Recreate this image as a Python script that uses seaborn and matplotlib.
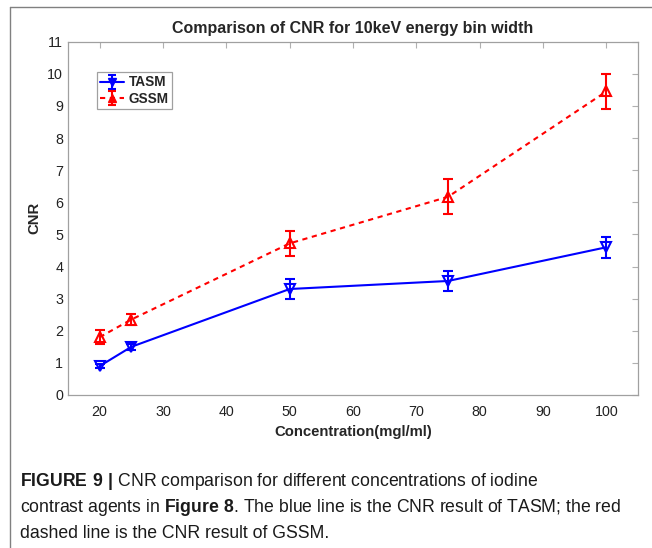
import numpy as np
import matplotlib
matplotlib.use("Agg")
import matplotlib.pyplot as plt
import seaborn as sns
from matplotlib.lines import Line2D

# Data
concentration = [20, 25, 50, 75, 100]
tasm_cnr = [0.9, 1.5, 3.3, 3.55, 4.6]
tasm_err = [0.06, 0.1, 0.32, 0.3, 0.32]
gssm_cnr = [1.8, 2.35, 4.72, 6.17, 9.45]
gssm_err = [0.22, 0.16, 0.38, 0.54, 0.55]

x_ticks = [20, 30, 40, 50, 60, 70, 80, 90, 100]
y_ticks = list(range(0, 12))

title = "Comparison of CNR for 10keV energy bin width"
x_label = "Concentration(mgl/ml)"
y_label = "CNR"
caption_lines = [
    r"$\mathbf{FIGURE\ 9\ |}$ CNR comparison for different concentrations of iodine",
    r"contrast agents in $\mathbf{Figure\ 8}$. The blue line is the CNR result of TASM; the red",
    "dashed line is the CNR result of GSSM.",
]

# Styling
sns.set_style("white")
plt.rcParams['font.family'] = ['Liberation Sans', 'DejaVu Sans']
plt.rcParams['mathtext.fontset'] = 'custom'
plt.rcParams['mathtext.rm'] = 'Liberation Sans'
plt.rcParams['mathtext.bf'] = 'Liberation Sans:bold'

W, H = 652, 548
fig = plt.figure(figsize=(W / 100, H / 100), dpi=100)
ax = fig.add_axes([68 / W, 1 - 395 / H, 570 / W, 353.3 / H])

series = [
    ("TASM", tasm_cnr, tasm_err, "#0000ff", "v", "-"),
    ("GSSM", gssm_cnr, gssm_err, "#ff0000", "^", "--"),
]
handles = []
for name, vals, errs, col, mk, ls in series:
    sns.lineplot(x=concentration, y=vals, ax=ax, color=col, marker=mk,
                 markersize=7, markerfacecolor='none', markeredgecolor=col,
                 markeredgewidth=1.5, linewidth=1.5, linestyle=ls, legend=False)
    if ls == "--":
        ax.lines[-1].set_dashes((2.5, 2.2))
    ax.errorbar(concentration, vals, yerr=errs, fmt='none', ecolor=col,
                elinewidth=1.5, capsize=3.5, capthick=1.5)
    # legend proxy (errorbar style, no data drawn)
    proxy = ax.errorbar([np.nan], [np.nan], yerr=[np.nan], color=col, marker=mk,
                        markersize=6, markerfacecolor=col, linestyle=ls, linewidth=1.5,
                        elinewidth=1.5, capsize=3, capthick=1.5)
    if ls == "--":
        proxy.lines[0].set_dashes((2.5, 2.2))
    handles.append(proxy)

ax.set_xlim(15, 105)
ax.set_ylim(0, 11)
ax.set_xticks(x_ticks)
ax.set_yticks(y_ticks)
ax.tick_params(direction='in', length=4, width=0.8, color='#b0b0b0',
               top=True, right=True, labelsize=10.3, labelcolor='#222222')
ax.tick_params(axis='x', pad=7)
ax.tick_params(axis='y', pad=3.5)
for sp in ax.spines.values():
    sp.set_color('#a0a0a0')
    sp.set_linewidth(0.9)

ax.set_xlabel(x_label, fontsize=10.7, fontweight='bold')
ax.xaxis.set_label_coords(0.5, -0.084)
ax.set_ylabel(y_label, fontsize=10.7, fontweight='bold')
ax.yaxis.set_label_coords(-0.047, 0.5)

fig.text(353 / W, 1 - 29 / H, title, ha='center', va='center',
         fontsize=11.5, fontweight='bold')

leg = ax.legend(handles, ["TASM", "GSSM"], numpoints=1,
                loc='upper left', bbox_to_anchor=(0.051, 0.914), fancybox=False,
                edgecolor='#a0a0a0', framealpha=1, prop={'weight': 'bold', 'size': 9.8},
                handlelength=1.75, handletextpad=0.3, borderpad=0.25, labelspacing=0.15,
                borderaxespad=0)
leg.get_frame().set_linewidth(0.9)

# outer figure frame (left and top edges)
fig.add_artist(Line2D([9.5 / W, 9.5 / W], [0, 1 - 6.5 / H], transform=fig.transFigure,
                      color='#808080', linewidth=1))
fig.add_artist(Line2D([9.5 / W, 1], [1 - 6.5 / H, 1 - 6.5 / H], transform=fig.transFigure,
                      color='#808080', linewidth=1))

# caption
for i, txt in enumerate(caption_lines):
    fig.text(20 / W, 1 - (482 + 26 * i) / H, txt, ha='left', va='center',
             fontsize=12.7, color='#1a1a1a')

fig.savefig("out.png", dpi=100)
plt.close(fig)
